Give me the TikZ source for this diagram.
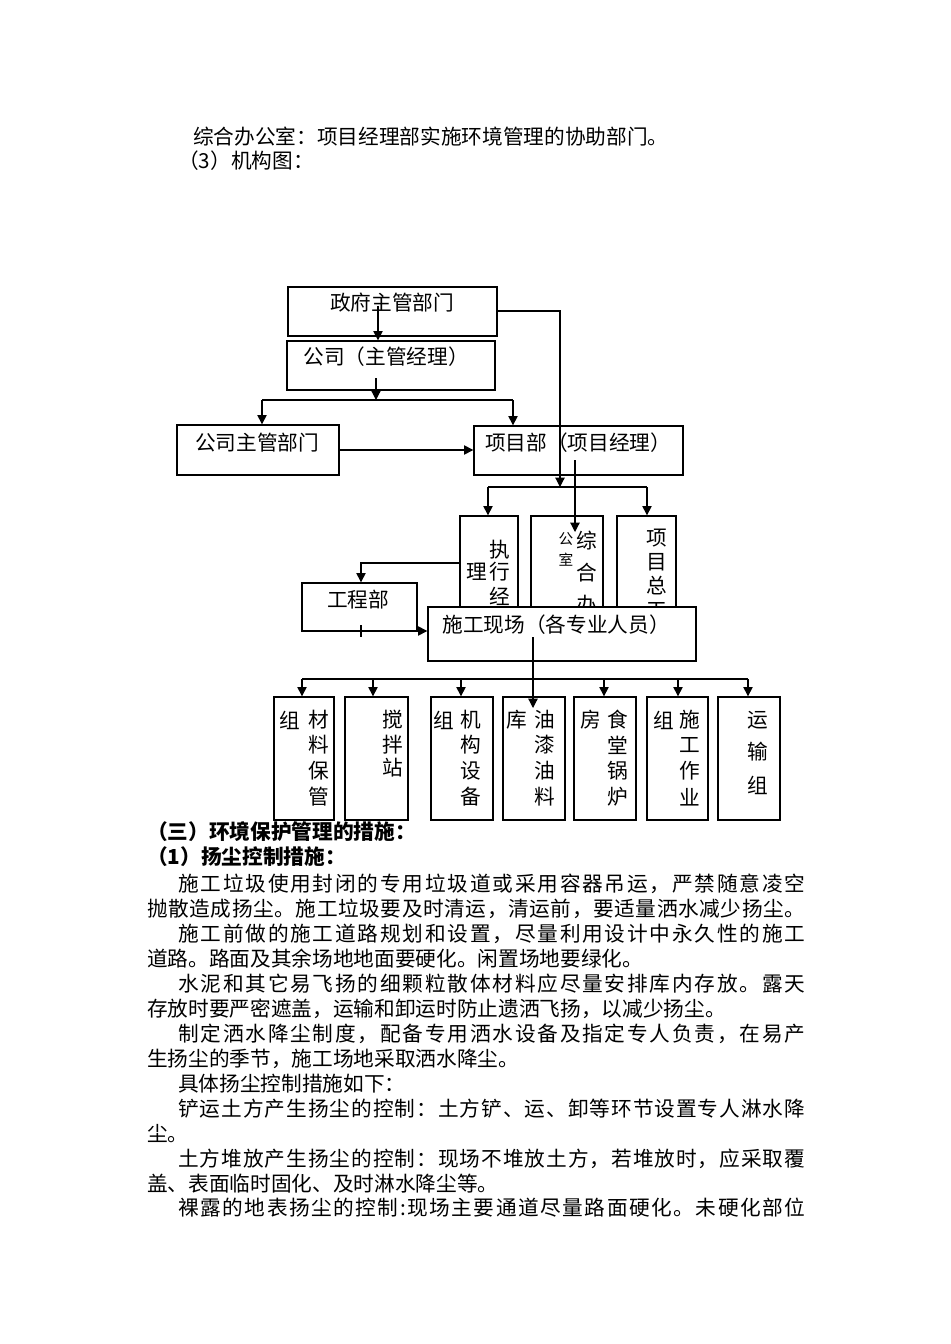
\documentclass[tikz,border=0pt]{standalone}
\usepackage{fontspec}
\setmainfont{Noto Sans CJK SC}
\usetikzlibrary{arrows.meta,fit}
\XeTeXinterchartoks 0 0 = {\hskip 0pt plus 2pt}
\newcommand\fla[1]{{\XeTeXinterchartokenstate=1 \hbox to 470.25pt{#1}}}
\newcommand\flb[1]{{\XeTeXinterchartokenstate=1 \hbox to 493.5pt{#1}}}
\tikzset{
 box/.style={draw,line width=1pt,inner sep=0pt},
 wbox/.style={box,fill=white},
 t/.style={inner sep=0pt,font=\fontsize{15.5}{16}\selectfont},
 ts/.style={inner sep=0pt,font=\fontsize{11}{12}\selectfont},
 p/.style={inner sep=0pt,anchor=west,font=\fontsize{15.5}{16}\selectfont},
 arr/.style={line width=0.9pt,-{Triangle[length=7pt,width=7pt]}},
 ln/.style={line width=0.9pt}
}
\begin{document}
\begin{tikzpicture}[x=0.75pt,y=-0.75pt]
\useasboundingbox[fill=white] (0,0) rectangle (950,1344);
% text above
\node[p] (l1) at (193,137) {综合办公室：项目经理部实施环境管理的协助部门。};
\node[p] (l2) at (178,161) {（3）机构图：};
% boxes
\node[box,fit={(288,287)(497,336)}] (gov) {};
\node[t] (govt) at (392,303) {政府主管部门};
\node[box,fit={(287,341)(495,390)}] (com) {};
\node[t] (comt) at (386,357) {公司（主管经理）};
\node[box,fit={(177,425)(339,475)}] (cd) {};
\node[t] (cdt) at (257,443) {公司主管部门};
\node[box,fit={(474,426)(683,475)}] (pm) {};
\node[t] (pmt) at (578,443) {项目部（项目经理）};
\node[box,fit={(460,516)(518,640)}] (ex) {};
\node[t] at (500,550) {执};
\node[t] at (477,572) {理};
\node[t] at (500,572) {行};
\node[t] at (500,596) {经};
\node[box,fit={(531,516)(603,640)}] (zh) {};
\node[t] at (587,541) {综};
\node[ts] at (566,539) {公};
\node[ts] at (566,560) {室};
\node[t] at (587,573) {合};
\node[t] at (587,605) {办};
\node[box,fit={(617,516)(676,640)}] (zg) {};
\node[t] at (657,538) {项};
\node[t] at (657,562) {目};
\node[t] at (657,586) {总};
\node[t] at (657,610) {工};
\node[box,fit={(302,583)(417,631)}] (gc) {};
\node[t] (gct) at (358,600) {工程部};
\node[wbox,fit={(428,607)(696,661)}] (sg) {};
\node[t] (sgt) at (556,625) {施工现场（各专业人员）};
% bottom boxes
\node[box,fit={(274,697)(334,820)}] (b1) {};
\node[box,fit={(345,697)(408,820)}] (b2) {};
\node[box,fit={(431,697)(493,820)}] (b3) {};
\node[box,fit={(503,697)(565,820)}] (b4) {};
\node[box,fit={(574,697)(636,820)}] (b5) {};
\node[box,fit={(647,697)(708,820)}] (b6) {};
\node[box,fit={(718,697)(780,820)}] (b7) {};
\foreach \x/\c in {290/组,319/材,444/组,471/机,517/库,545/油,591/房,618/食,664/组,690/施,393/搅,758/运}
  \node[t] at (\x,720) {\c};
\foreach \x/\a/\b/\d in {319/料/保/管,471/构/设/备,545/漆/油/料,618/堂/锅/炉,690/工/作/业}{
  \node[t] at (\x,745) {\a};
  \node[t] at (\x,771) {\b};
  \node[t] at (\x,797) {\d};}
\node[t] at (393,745) {拌};
\node[t] at (393,768) {站};
\node[t] at (758,752) {输};
\node[t] at (758,785) {组};
% connectors
\draw[arr] (378,306) -- (com.north -| 378,0);
\draw[ln] (376,378) -- (376,392);
\draw[arr] (376,392) -- (376,400);
\draw[ln] (262,400) -- (513,400);
\draw[arr] (262,400) -- (cd.north -| 262,0);
\draw[arr] (513,400) -- (pm.north -| 513,0);
\draw[arr] (cd.east |- 0,450) -- (pm.west |- 0,450);
\draw[arr] (gov.east |- 0,311) -- (560,311) -- (560,487);
\draw[ln] (488,487) -- (647,487);
\draw[arr] (488,487) -- (ex.north -| 488,0);
\draw[arr] (647,487) -- (zg.north -| 647,0);
\draw[arr] (575,460) -- (575,532);
\draw[arr] (ex.west |- 0,563) -- (361,563) -- (gc.north -| 361,0);
\draw[arr] (361,631) -- (sg.west |- 0,631);
\draw[ln] (361,625) -- (361,637);
\draw[arr] (533,637) -- (533,708);
\draw[ln] (302,679) -- (748,679);
\foreach \x/\n in {302/b1,373/b2,461/b3,604/b5,678/b6,748/b7}
  \draw[arr] (\x,679) -- (\n.north -| \x,0);
% body text
\node[p,font=\fontsize{15.5}{16}\selectfont\bfseries] at (147,832) {（三）环境保护管理的措施：};
\node[p,font=\fontsize{15.5}{16}\selectfont\bfseries] at (147,857) {（1）扬尘控制措施：};
\node[p] at (178,884) {\fla{施工垃圾使用封闭的专用垃圾道或采用容器吊运，严禁随意凌空}};
\node[p] at (147,909) {\flb{抛散造成扬尘。施工垃圾要及时清运，清运前，要适量洒水减少扬尘。}};
\node[p] at (178,934) {\fla{施工前做的施工道路规划和设置，尽量利用设计中永久性的施工}};
\node[p] at (147,959) {道路。路面及其余场地地面要硬化。闲置场地要绿化。};
\node[p] at (178,984) {\fla{水泥和其它易飞扬的细颗粒散体材料应尽量安排库内存放。露天}};
\node[p] at (147,1009) {存放时要严密遮盖，运输和卸运时防止遗洒飞扬，以减少扬尘。};
\node[p] at (178,1034) {\fla{制定洒水降尘制度，配备专用洒水设备及指定专人负责，在易产}};
\node[p] at (147,1059) {生扬尘的季节，施工场地采取洒水降尘。};
\node[p] at (178,1084) {具体扬尘控制措施如下：};
\node[p] at (178,1109) {\fla{铲运土方产生扬尘的控制：土方铲、运、卸等环节设置专人淋水降}};
\node[p] at (147,1134) {尘。};
\node[p] at (178,1159) {\fla{土方堆放产生扬尘的控制：现场不堆放土方，若堆放时，应采取覆}};
\node[p] at (147,1184) {盖、表面临时固化、及时淋水降尘等。};
\node[p] at (178,1208) {\fla{裸露的地表扬尘的控制:现场主要通道尽量路面硬化。未硬化部位}};
\end{tikzpicture}
\end{document}
